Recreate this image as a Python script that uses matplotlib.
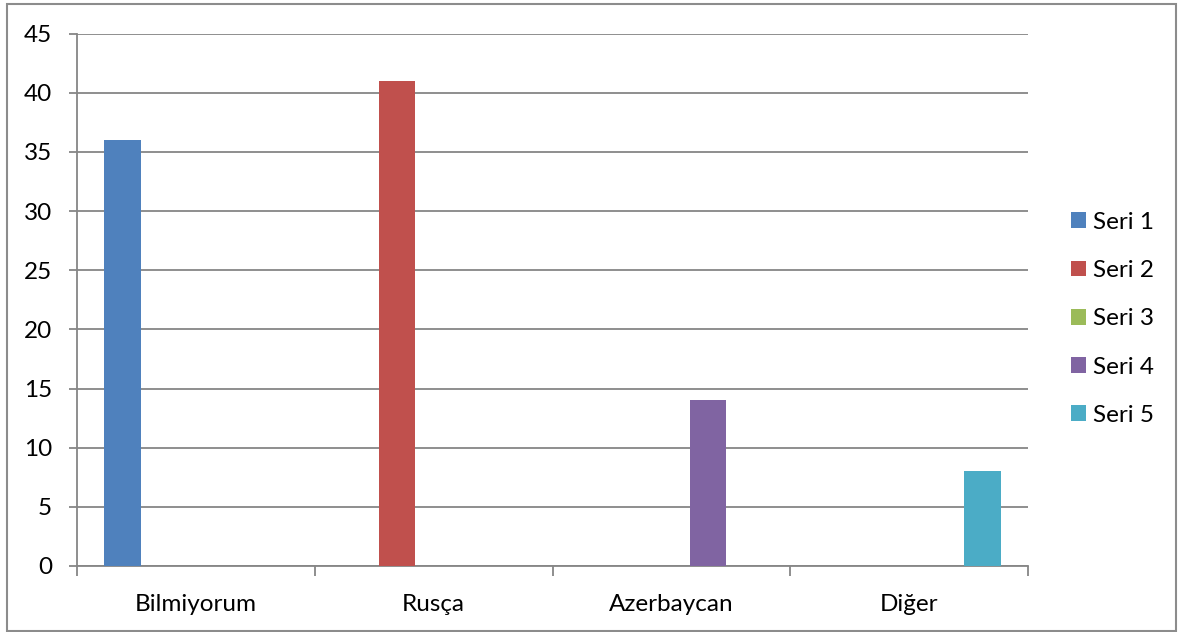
import matplotlib
matplotlib.use("Agg")
import matplotlib.pyplot as plt
from matplotlib.patches import Patch, Rectangle
import numpy as np

categories = ["Bilmiyorum", "Rusça", "Azerbaycan", "Diğer"]
series_names = ["Seri 1", "Seri 2", "Seri 3", "Seri 4", "Seri 5"]
seri1 = [36, 0, 0, 0]
seri2 = [0, 41, 0, 0]
seri3 = [0, 0, 0, 0]
seri4 = [0, 0, 14, 0]
seri5 = [0, 0, 0, 8]
y_ticks = [0, 5, 10, 15, 20, 25, 30, 35, 40, 45]

series_values = [seri1, seri2, seri3, seri4, seri5]
colors = ["#4F81BD", "#C0504D", "#9BBB59", "#8064A2", "#4BACC6"]

plt.rcParams['font.family'] = ['Lato', 'DejaVu Sans']
FS = 17.5

fig = plt.figure(figsize=(11.78, 6.32), dpi=100)
W, H = 1178, 632
ax = fig.add_axes([77 / W, 1 - 566 / H, (1028 - 77) / W, (566 - 33.5) / H])

x = np.arange(len(categories))
bw = 1 / 6.5
for i, (vals, c) in enumerate(zip(series_values, colors)):
    ax.bar(x + (i - 2) * bw, vals, width=bw, color=c, zorder=3)

ax.set_xlim(-0.5, len(categories) - 0.5)
ax.set_ylim(0, 45)
ax.set_yticks(y_ticks)
ax.set_yticklabels([str(v) for v in y_ticks], fontsize=FS)
ax.yaxis.grid(True, color="#868686", linewidth=1.3, zorder=0)
ax.set_xticks(x)
ax.set_xticklabels(categories, fontsize=FS)
ax.set_xticks(np.arange(-0.5, len(categories)), minor=True)
ax.tick_params(axis='x', which='major', length=0, pad=20.5)
ax.tick_params(axis='x', which='minor', length=7, width=1.3, color="#868686", direction='out')
ax.tick_params(axis='y', length=6, width=1.3, color="#868686", direction='out', pad=12)
for s in ["top", "right"]:
    ax.spines[s].set_visible(False)
for s in ["left", "bottom"]:
    ax.spines[s].set_color("#868686")
    ax.spines[s].set_linewidth(1.3)

handles = [Patch(facecolor=c, edgecolor='none') for c in colors]
fig.legend(handles, series_names, loc='upper left',
           bbox_to_anchor=(1049 / W, 1 - 190 / H), frameon=False,
           fontsize=FS, handlelength=0.62, handleheight=0.62,
           handletextpad=0.3, labelspacing=1.12)

fig.patches.append(Rectangle((7 / W, 1 / H), (1176 - 7) / W, (628 - 1) / H,
                             transform=fig.transFigure, fill=False,
                             edgecolor="#8c8c8c", linewidth=1.5))

fig.savefig("out.png", dpi=100, facecolor="white")
